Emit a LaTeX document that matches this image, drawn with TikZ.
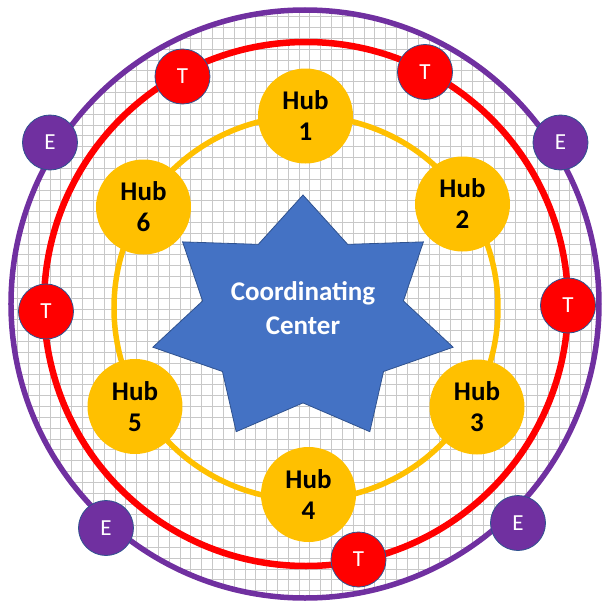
\documentclass[tikz,border=0pt]{standalone}
\usepackage{fontspec}
\setmainfont{Carlito}
\usepackage{tikz}
\usetikzlibrary{positioning}
\definecolor{hubcolor}{RGB}{255, 192, 0}
\definecolor{trialcolor}{RGB}{255, 0, 0}
\definecolor{enrollcolor}{RGB}{112, 48, 160}
\definecolor{centercolor}{RGB}{68, 114, 196}
\definecolor{edgecolor}{RGB}{47, 82, 143}
\definecolor{gridcolor}{RGB}{200, 200, 200}
\tikzset{
    hub/.style={circle, fill=hubcolor, minimum size=95pt, inner sep=0pt, align=center, font=\fontsize{27}{31}\selectfont\bfseries},
    site/.style={circle, draw=edgecolor, line width=0.8pt, minimum size=55pt, inner sep=0pt, text=white, font=\fontsize{23}{25}\selectfont},
    trial site/.style={site, fill=trialcolor},
    enroll site/.style={site, fill=enrollcolor},
    grid line/.style={gridcolor, line width=1pt},
    outer ring/.style={enrollcolor, line width=5.5pt},
    trial ring/.style={trialcolor, line width=6.5pt},
    hub ring/.style={hubcolor, line width=5.5pt},
    center star/.style={fill=centercolor, draw=edgecolor, line width=0.8pt}
}
\begin{document}
\begin{tikzpicture}[x=1pt, y=1pt]
\useasboundingbox (-305,-302) rectangle (300,304);
% background grid inside the outer ring
\begin{scope}
\clip (0,0) circle (294);
\draw[grid line, step=10.83pt, shift={(5,5.7)}] (-330,-330) grid (330,330);
\end{scope}
% rings
\draw[outer ring] (0,0) circle (294);
\draw[trial ring] (1,0) circle (262);
\draw[hub ring] (1,-4) circle (192);
% coordinating center
\begin{scope}[shift={(-2,-15.5)}]
\filldraw[center star] (90:154 and 124.5)
  \foreach \k in {1,...,7} { -- ({90+(2*\k-1)*180/7}:103 and 83.4) -- ({90+2*\k*180/7}:154 and 124.5) } -- cycle;
\end{scope}
\node[align=center, text=white, font=\fontsize{27}{34}\selectfont\bfseries] (coord) at (-2,-4) {Coordinating\\Center};
% hubs
\node[hub] (hub1) at (0.5,188) {Hub\\1};
\node[hub] (hub2) at (157.5,100) {Hub\\2};
\node[hub] (hub3) at (172,-103) {Hub\\3};
\node[hub] (hub4) at (3.5,-190.5) {Hub\\4};
\node[hub] (hub5) at (-170,-102.5) {Hub\\5};
\node[hub] (hub6) at (-161.5,97) {Hub\\6};
% sites on the red ring
\node[trial site] (t1) at (-122.5,227.5) {T};
\node[trial site] (t2) at (120,232) {T};
\node[trial site] (t3) at (263,-1.5) {T};
\node[trial site] (t4) at (53.5,-255.5) {T};
\node[trial site] (t5) at (-259,-7.5) {T};
% sites on the purple ring
\node[enroll site] (e1) at (-255,161.5) {E};
\node[enroll site] (e2) at (255.5,161.5) {E};
\node[enroll site] (e3) at (213,-219) {E};
\node[enroll site] (e4) at (-199,-224) {E};
\end{tikzpicture}
\end{document}
